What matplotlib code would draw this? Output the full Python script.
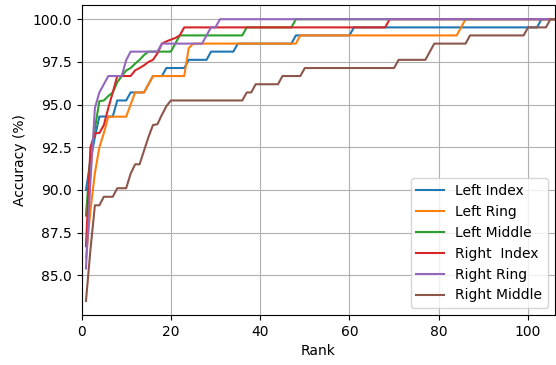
import matplotlib
matplotlib.use("Agg")
import matplotlib.pyplot as plt

rank = list(range(1, 107))

left_index = [
    90.0, 91.7, 93.1, 94.3, 94.3, 94.3, 94.3, 95.24, 95.24, 95.24,
    95.71, 95.71, 95.71, 95.71, 96.19, 96.67, 96.67, 96.67, 97.14, 97.14,
    97.14, 97.14, 97.14, 97.62, 97.62, 97.62, 97.62, 97.62, 98.1, 98.1,
    98.1, 98.1, 98.1, 98.1, 98.57, 98.57, 98.57, 98.57, 98.57, 98.57,
    98.57, 98.57, 98.57, 98.57, 98.57, 98.57, 98.57, 99.05, 99.05, 99.05,
    99.05, 99.05, 99.05, 99.05, 99.05, 99.05, 99.05, 99.05, 99.05, 99.05,
    99.52, 99.52, 99.52, 99.52, 99.52, 99.52, 99.52, 99.52, 99.52, 99.52,
    99.52, 99.52, 99.52, 99.52, 99.52, 99.52, 99.52, 99.52, 99.52, 99.52,
    99.52, 99.52, 99.52, 99.52, 99.52, 99.52, 99.52, 99.52, 99.52, 99.52,
    99.52, 99.52, 99.52, 99.52, 99.52, 99.52, 99.52, 99.52, 99.52, 99.52,
    99.52, 99.52, 100.0, 100.0, 100.0, 100.0,
]

left_ring = [
    86.0, 88.8, 91.0, 92.5, 93.33, 94.29, 94.29, 94.29, 94.29, 94.29,
    95.0, 95.71, 95.71, 95.71, 96.19, 96.67, 96.67, 96.67, 96.67, 96.67,
    96.67, 96.67, 96.67, 98.3, 98.57, 98.57, 98.57, 98.57, 98.57, 98.57,
    98.57, 98.57, 98.57, 98.57, 98.57, 98.57, 98.57, 98.57, 98.57, 98.57,
    98.57, 98.57, 98.57, 98.57, 98.57, 98.57, 98.57, 98.57, 99.05, 99.05,
    99.05, 99.05, 99.05, 99.05, 99.05, 99.05, 99.05, 99.05, 99.05, 99.05,
    99.05, 99.05, 99.05, 99.05, 99.05, 99.05, 99.05, 99.05, 99.05, 99.05,
    99.05, 99.05, 99.05, 99.05, 99.05, 99.05, 99.05, 99.05, 99.05, 99.05,
    99.05, 99.05, 99.05, 99.05, 99.52, 100.0, 100.0, 100.0, 100.0, 100.0,
    100.0, 100.0, 100.0, 100.0, 100.0, 100.0, 100.0, 100.0, 100.0, 100.0,
    100.0, 100.0, 100.0, 100.0, 100.0, 100.0,
]

left_middle = [
    88.5, 92.0, 93.6, 95.2, 95.24, 95.5, 95.71, 96.3, 96.67, 97.0,
    97.14, 97.4, 97.62, 97.9, 98.1, 98.1, 98.1, 98.1, 98.1, 98.1,
    98.57, 99.05, 99.05, 99.05, 99.05, 99.05, 99.05, 99.05, 99.05, 99.05,
    99.05, 99.05, 99.05, 99.05, 99.05, 99.05, 99.52, 99.52, 99.52, 99.52,
    99.52, 99.52, 99.52, 99.52, 99.52, 99.52, 99.52, 100.0, 100.0, 100.0,
    100.0, 100.0, 100.0, 100.0, 100.0, 100.0, 100.0, 100.0, 100.0, 100.0,
    100.0, 100.0, 100.0, 100.0, 100.0, 100.0, 100.0, 100.0, 100.0, 100.0,
    100.0, 100.0, 100.0, 100.0, 100.0, 100.0, 100.0, 100.0, 100.0, 100.0,
    100.0, 100.0, 100.0, 100.0, 100.0, 100.0, 100.0, 100.0, 100.0, 100.0,
    100.0, 100.0, 100.0, 100.0, 100.0, 100.0, 100.0, 100.0, 100.0, 100.0,
    100.0, 100.0, 100.0, 100.0, 100.0, 100.0,
]

right_index = [
    86.7, 92.5, 93.33, 93.33, 93.8, 94.8, 95.71, 96.67, 96.67, 96.67,
    96.67, 97.0, 97.14, 97.3, 97.5, 97.62, 98.0, 98.57, 98.7, 98.8,
    98.9, 99.05, 99.52, 99.52, 99.52, 99.52, 99.52, 99.52, 99.52, 99.52,
    99.52, 99.52, 99.52, 99.52, 99.52, 99.52, 99.52, 99.52, 99.52, 99.52,
    99.52, 99.52, 99.52, 99.52, 99.52, 99.52, 99.52, 99.52, 99.52, 99.52,
    99.52, 99.52, 99.52, 99.52, 99.52, 99.52, 99.52, 99.52, 99.52, 99.52,
    99.52, 99.52, 99.52, 99.52, 99.52, 99.52, 99.52, 99.52, 100.0, 100.0,
    100.0, 100.0, 100.0, 100.0, 100.0, 100.0, 100.0, 100.0, 100.0, 100.0,
    100.0, 100.0, 100.0, 100.0, 100.0, 100.0, 100.0, 100.0, 100.0, 100.0,
    100.0, 100.0, 100.0, 100.0, 100.0, 100.0, 100.0, 100.0, 100.0, 100.0,
    100.0, 100.0, 100.0, 100.0, 100.0, 100.0,
]

right_ring = [
    85.4, 90.5, 94.8, 95.71, 96.19, 96.67, 96.67, 96.67, 96.67, 97.6,
    98.1, 98.1, 98.1, 98.1, 98.1, 98.1, 98.1, 98.57, 98.57, 98.57,
    98.57, 98.57, 98.57, 98.57, 98.57, 98.57, 98.57, 99.05, 99.52, 99.52,
    100.0, 100.0, 100.0, 100.0, 100.0, 100.0, 100.0, 100.0, 100.0, 100.0,
    100.0, 100.0, 100.0, 100.0, 100.0, 100.0, 100.0, 100.0, 100.0, 100.0,
    100.0, 100.0, 100.0, 100.0, 100.0, 100.0, 100.0, 100.0, 100.0, 100.0,
    100.0, 100.0, 100.0, 100.0, 100.0, 100.0, 100.0, 100.0, 100.0, 100.0,
    100.0, 100.0, 100.0, 100.0, 100.0, 100.0, 100.0, 100.0, 100.0, 100.0,
    100.0, 100.0, 100.0, 100.0, 100.0, 100.0, 100.0, 100.0, 100.0, 100.0,
    100.0, 100.0, 100.0, 100.0, 100.0, 100.0, 100.0, 100.0, 100.0, 100.0,
    100.0, 100.0, 100.0, 100.0, 100.0, 100.0,
]

right_middle = [
    83.5, 86.5, 89.1, 89.1, 89.6, 89.6, 89.6, 90.1, 90.1, 90.1,
    90.95, 91.5, 91.5, 92.3, 93.1, 93.8, 93.85, 94.4, 94.9, 95.24,
    95.24, 95.24, 95.24, 95.24, 95.24, 95.24, 95.24, 95.24, 95.24, 95.24,
    95.24, 95.24, 95.24, 95.24, 95.24, 95.24, 95.71, 95.71, 96.19, 96.19,
    96.19, 96.19, 96.19, 96.19, 96.67, 96.67, 96.67, 96.67, 96.67, 97.14,
    97.14, 97.14, 97.14, 97.14, 97.14, 97.14, 97.14, 97.14, 97.14, 97.14,
    97.14, 97.14, 97.14, 97.14, 97.14, 97.14, 97.14, 97.14, 97.14, 97.14,
    97.62, 97.62, 97.62, 97.62, 97.62, 97.62, 97.62, 98.1, 98.57, 98.57,
    98.57, 98.57, 98.57, 98.57, 98.57, 98.57, 99.05, 99.05, 99.05, 99.05,
    99.05, 99.05, 99.05, 99.05, 99.05, 99.05, 99.05, 99.05, 99.05, 99.52,
    99.52, 99.52, 99.52, 99.52, 100.0, 100.0,
]

series = [
    (left_index, 'Left Index'),
    (left_ring, 'Left Ring'),
    (left_middle, 'Left Middle'),
    (right_index, 'Right  Index'),
    (right_ring, 'Right Ring'),
    (right_middle, 'Right Middle'),
]

fig = plt.figure(figsize=(5.56, 3.65), dpi=100)
ax = fig.add_axes([0.1466, 0.137, 0.8514, 0.849])

for values, label in series:
    ax.plot(rank, values, label=label)

ax.set_xlim(0, 106)
ax.set_xlabel('Rank')
ax.set_ylabel('Accuracy (%)')
ax.grid(True)
ax.legend(loc='lower right')

fig.savefig('out.png', dpi=100)
